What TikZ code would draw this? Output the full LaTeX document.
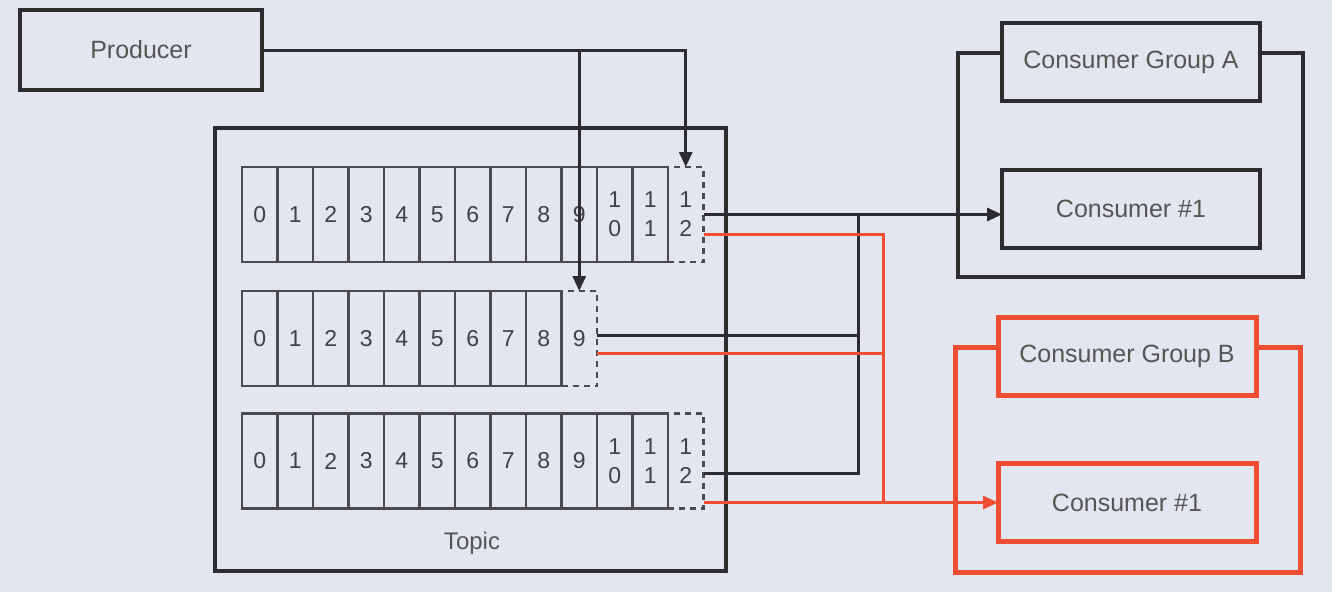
\documentclass[tikz,border=0pt]{standalone}
\usepackage{fontspec}
\setmainfont{Liberation Sans}
\usetikzlibrary{arrows.meta,positioning}
\definecolor{slidebg}{HTML}{E3E6EE}
\definecolor{inkdark}{HTML}{2B2B30}
\definecolor{groupred}{HTML}{F04E32}
\definecolor{labelgray}{HTML}{555555}

\begin{document}
\begin{tikzpicture}[
  x=1pt,y=-1pt,
  node distance=0pt,
  every node/.style={outer sep=0pt},
  box/.style={draw=inkdark,line width=4pt,fill=slidebg,
              minimum width=258pt,minimum height=78pt,inner sep=0pt,
              font=\fontsize{25}{29}\selectfont,text=labelgray},
  redbox/.style={box,draw=groupred,line width=5pt},
  groupframe/.style={draw=inkdark,line width=4pt,inner sep=0pt},
  redframe/.style={groupframe,draw=groupred,line width=5pt},
  cell/.style={draw=inkdark!85,line width=2.2pt,minimum width=35.5pt,
               minimum height=95pt,inner sep=0pt,align=center,
               font=\fontsize{23}{29}\selectfont,text=inkdark!90},
  newcell/.style={cell,dash pattern=on 6pt off 5pt},
  arrow/.style={-{Triangle[length=15pt,width=13pt]},line width=3pt,draw=inkdark},
  link/.style={line width=3pt,draw=inkdark},
  redarrow/.style={arrow,draw=groupred},
  redlink/.style={link,draw=groupred}]
\fill[slidebg] (0,0) rectangle (1332,592);
\useasboundingbox (0,0) rectangle (1332,592);
\node[box,minimum width=242pt,minimum height=80pt] (prod) at (141,50) {Producer};
\node[groupframe,minimum width=511pt,minimum height=443pt] (topic) at (470.5,349.5) {};
\node[font=\fontsize{24}{28}\selectfont,text=labelgray] (topiclbl) at (472,543) {Topic};
% partition 1
\foreach \i in {0,...,9}
  \node[cell] (a\i) at ({259.75+35.5*\i},214.5) {\i};
\node[cell,right=of a9] (a10) {1\\0};
\node[cell,right=of a10] (a11) {1\\1};
\node[newcell,right=of a11] (a12) {1\\2};
% partition 2
\foreach \i in {0,...,8}
  \node[cell] (b\i) at ({259.75+35.5*\i},338.5) {\i};
\node[newcell,right=of b8] (b9) {9};
% partition 3
\foreach \i in {0,...,9}
  \node[cell] (c\i) at ({259.75+35.5*\i},461) {\i};
\node[cell,right=of c9] (c10) {1\\0};
\node[cell,right=of c10] (c11) {1\\1};
\node[newcell,right=of c11] (c12) {1\\2};
% consumer groups
\node[groupframe,minimum width=345pt,minimum height=224pt] (grpa) at (1130.5,165) {};
\node[box] (cga) at (1131,62) {Consumer Group A};
\node[box] (ca1) at (1131,209) {Consumer \#1};
\node[redframe,minimum width=345pt,minimum height=225pt] (grpb) at (1127.5,459.5) {};
\node[redbox] (cgb) at (1127,356) {Consumer Group B};
\node[redbox] (cb1) at (1127,502.5) {Consumer \#1};
\coordinate (blackbus) at (858,0);
\coordinate (redbus) at (883,0);
\draw[arrow] (prod.east) -| (a12.north);
\draw[arrow] (prod.east -| b9.north) -- (b9.north);
\draw[arrow] (a12.east) -- (a12.east -| ca1.west);
\draw[link] ([yshift=3pt]b9.east) -- ([yshift=3pt]b9.east -| blackbus);
\draw[link] ([yshift=-12pt]c12.east) -| (blackbus |- a12.east);
\draw[redlink] ([yshift=-20pt]a12.east) -| (redbus |- cb1.west);
\draw[redlink] ([yshift=-15pt]b9.east) -- ([yshift=-15pt]b9.east -| redbus);
\draw[redarrow] (cb1.west -| c12.east) -- (cb1.west);
\end{tikzpicture}
\end{document}
